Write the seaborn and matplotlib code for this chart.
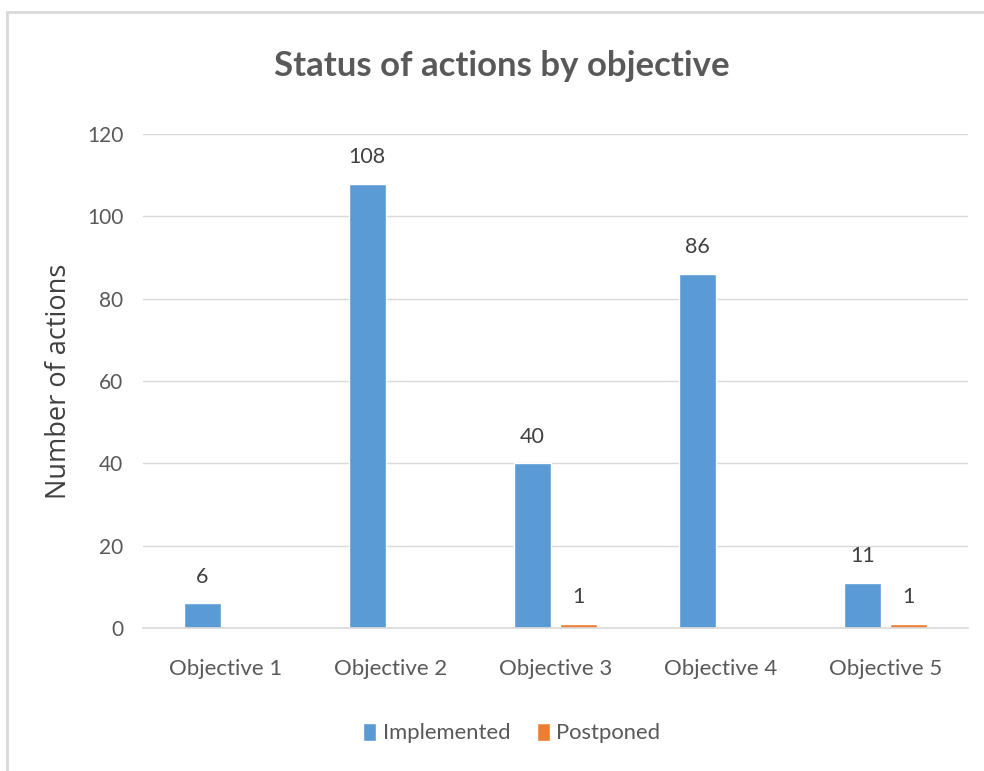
import pandas as pd
import matplotlib.pyplot as plt
import seaborn as sns

objectives = ["Objective 1", "Objective 2", "Objective 3", "Objective 4", "Objective 5"]
implemented = [6, 108, 40, 86, 11]
postponed = [0, 0, 1, 0, 1]
statuses = ["Implemented", "Postponed"]
colors = ["#5B9BD5", "#ED7D31"]

df = pd.DataFrame({
    "objective": objectives * 2,
    "status": [statuses[0]] * 5 + [statuses[1]] * 5,
    "count": implemented + postponed,
})

sns.set_theme(style="white")
plt.rcParams["font.family"] = ["Lato", "DejaVu Sans"]
text_color = "#595959"

fig = plt.figure(figsize=(9.84, 7.71), dpi=100)
ax = fig.add_axes([0.145, 0.1855, 0.839, 0.6405])

sns.barplot(data=df, x="objective", y="count", hue="status", order=objectives,
            hue_order=statuses, palette=colors, width=0.56, gap=0.2,
            saturation=1, ax=ax, legend=True)

ax.set_ylim(0, 120)
ax.set_yticks(range(0, 121, 20))
ax.yaxis.grid(True, color="#D9D9D9", linewidth=1)
ax.set_axisbelow(True)
for s in ["top", "right", "left"]:
    ax.spines[s].set_visible(False)
ax.spines["bottom"].set_color("#D9D9D9")
ax.spines["bottom"].set_linewidth(1.2)
ax.tick_params(axis="y", length=0, labelsize=15, colors=text_color, pad=14)
ax.tick_params(axis="x", length=0, labelsize=16, colors=text_color, pad=22)

ax.set_xlabel("")
ax.set_ylabel("Number of actions", fontsize=19.5, color="#404040",
              family=["Open Sans", "DejaVu Sans"], labelpad=10)

for cont in ax.containers:
    labels = [f"{v:g}" if v > 0 else "" for v in cont.datavalues]
    ax.bar_label(cont, labels=labels, padding=12, fontsize=15.5, color="#404040")

ax.legend(loc="upper center", bbox_to_anchor=(0.447, -0.152), ncol=2, frameon=False,
          fontsize=15.8, handlelength=0.6, handleheight=0.9, handletextpad=0.3,
          columnspacing=1.2, labelcolor=text_color)

fig.suptitle("Status of actions by objective", x=0.51, y=0.935, fontsize=25,
             fontweight="bold", color=text_color)

# light frame around the chart
border = plt.Rectangle((0.007, -0.01), 1.1, 0.995, transform=fig.transFigure,
                       fill=False, edgecolor="#D9D9D9", linewidth=2)
fig.patches.append(border)

fig.savefig("out.png", dpi=100)
